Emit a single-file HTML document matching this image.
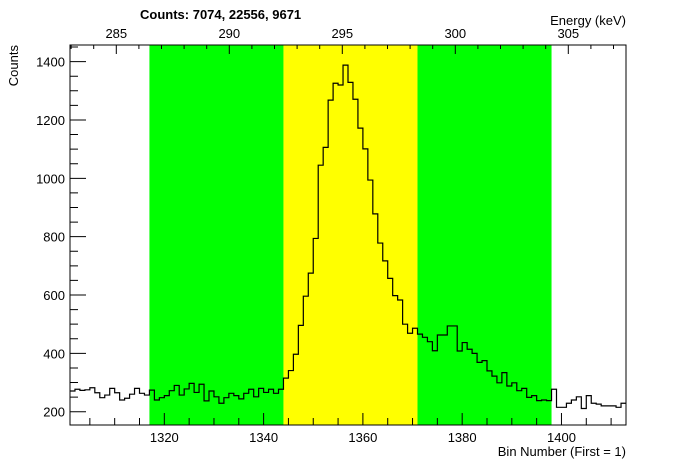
<!DOCTYPE html>
<html><head><meta charset="utf-8"><style>
body{margin:0;background:#fff;}
svg{display:block;font-family:"Liberation Sans",sans-serif;}
</style></head><body>
<svg id="chart" width="696" height="472" xmlns="http://www.w3.org/2000/svg">
<text x="140" y="19" font-size="13" font-weight="bold">Counts:   7074,   22556,   9671</text>
<text x="626" y="25" font-size="13" text-anchor="end">Energy (keV)</text>
<text x="626" y="456" font-size="13" text-anchor="end">Bin Number (First = 1)</text>
<text transform="translate(18,45) rotate(-90)" font-size="13" text-anchor="end">Counts</text>
<g id="layer"></g>
</svg>
<script>
const firstBin = 1301;
const counts = [271,277,273,275,282,265,248,257,280,265,240,246,260,280,263,257,
274,240,248,255,272,290,257,278,297,266,294,237,271,251,229,248,263,255,244,263,277,251,280,266,277,263,277,
315,341,397,496,596,675,794,1045,1106,1268,1326,1320,1388,1329,1271,1172,1101,994,878,778,717,657,598,583,500,469,486,
466,455,440,409,463,463,494,494,408,437,414,400,369,375,340,322,299,334,288,299,272,280,249,255,238,240,238,
277,215,215,229,240,251,211,255,229,226,220,220,220,215,229];
const regions = [[1317,1344,'#00ff00'],[1344,1371,'#ffff00'],[1371,1398,'#00ff00']];
const xTicks = [1320,1340,1360,1380,1400];
const yTicks = [200,400,600,800,1000,1200,1400];
const eTicks = [285,290,295,300,305];
const xMin=1301,xMax=1413,yMin=154.4,yMax=1457;
const L=70,R=626,T=45,B=425;
const X=b=>L+(b-xMin)*(R-L)/(xMax-xMin);
const Y=v=>B-(v-yMin)*(B-T)/(yMax-yMin);
const E=e=>342.3+(e-295)*22.6;
const g=document.getElementById('layer');
const NS='http://www.w3.org/2000/svg';
function mk(t,a){const e=document.createElementNS(NS,t);for(const k in a)e.setAttribute(k,a[k]);g.appendChild(e);return e;}
regions.forEach((r,i)=>{const e=mk('rect',{x:X(r[0]),y:T,width:X(r[1])-X(r[0]),height:B-T,fill:r[2]});

});
let d='M'+X(firstBin)+','+Y(counts[0]);
counts.forEach((c,i)=>{d+=' L'+X(firstBin+i)+','+Y(c)+' L'+X(firstBin+i+1)+','+Y(c);});
const p=mk('path',{d:d,fill:'none',stroke:'#000','stroke-width':1.2});


const fr=mk('rect',{x:L,y:T,width:R-L,height:B-T,fill:'none',stroke:'#000','stroke-width':1});


let td='';
for(let b=1305;b<xMax;b+=5){const maj=xTicks.includes(b);td+=`M${X(b)},${B}v${maj?-12:-7}`;}
for(let v=200;v<yMax;v+=50){const maj=yTicks.includes(v);td+=`M${L},${Y(v)}h${maj?16:8}`;}
for(let e=283;e<=307;e++){const x=E(e);if(x<L||x>R)continue;const maj=eTicks.includes(e);td+=`M${x},${T}v${maj?9:4}`;}
const tk=mk('path',{d:td,stroke:'#000','stroke-width':1,fill:'none'});


xTicks.forEach(v=>{const t=mk('text',{x:X(v),y:442,'font-size':13,'text-anchor':'middle'});t.textContent=v;

});
yTicks.forEach(v=>{const t=mk('text',{x:65,y:Y(v)+5,'font-size':13,'text-anchor':'end'});t.textContent=v;

});
eTicks.forEach(v=>{const t=mk('text',{x:E(v),y:38,'font-size':13,'text-anchor':'middle'});t.textContent=v;

});
</script>
</body></html>
